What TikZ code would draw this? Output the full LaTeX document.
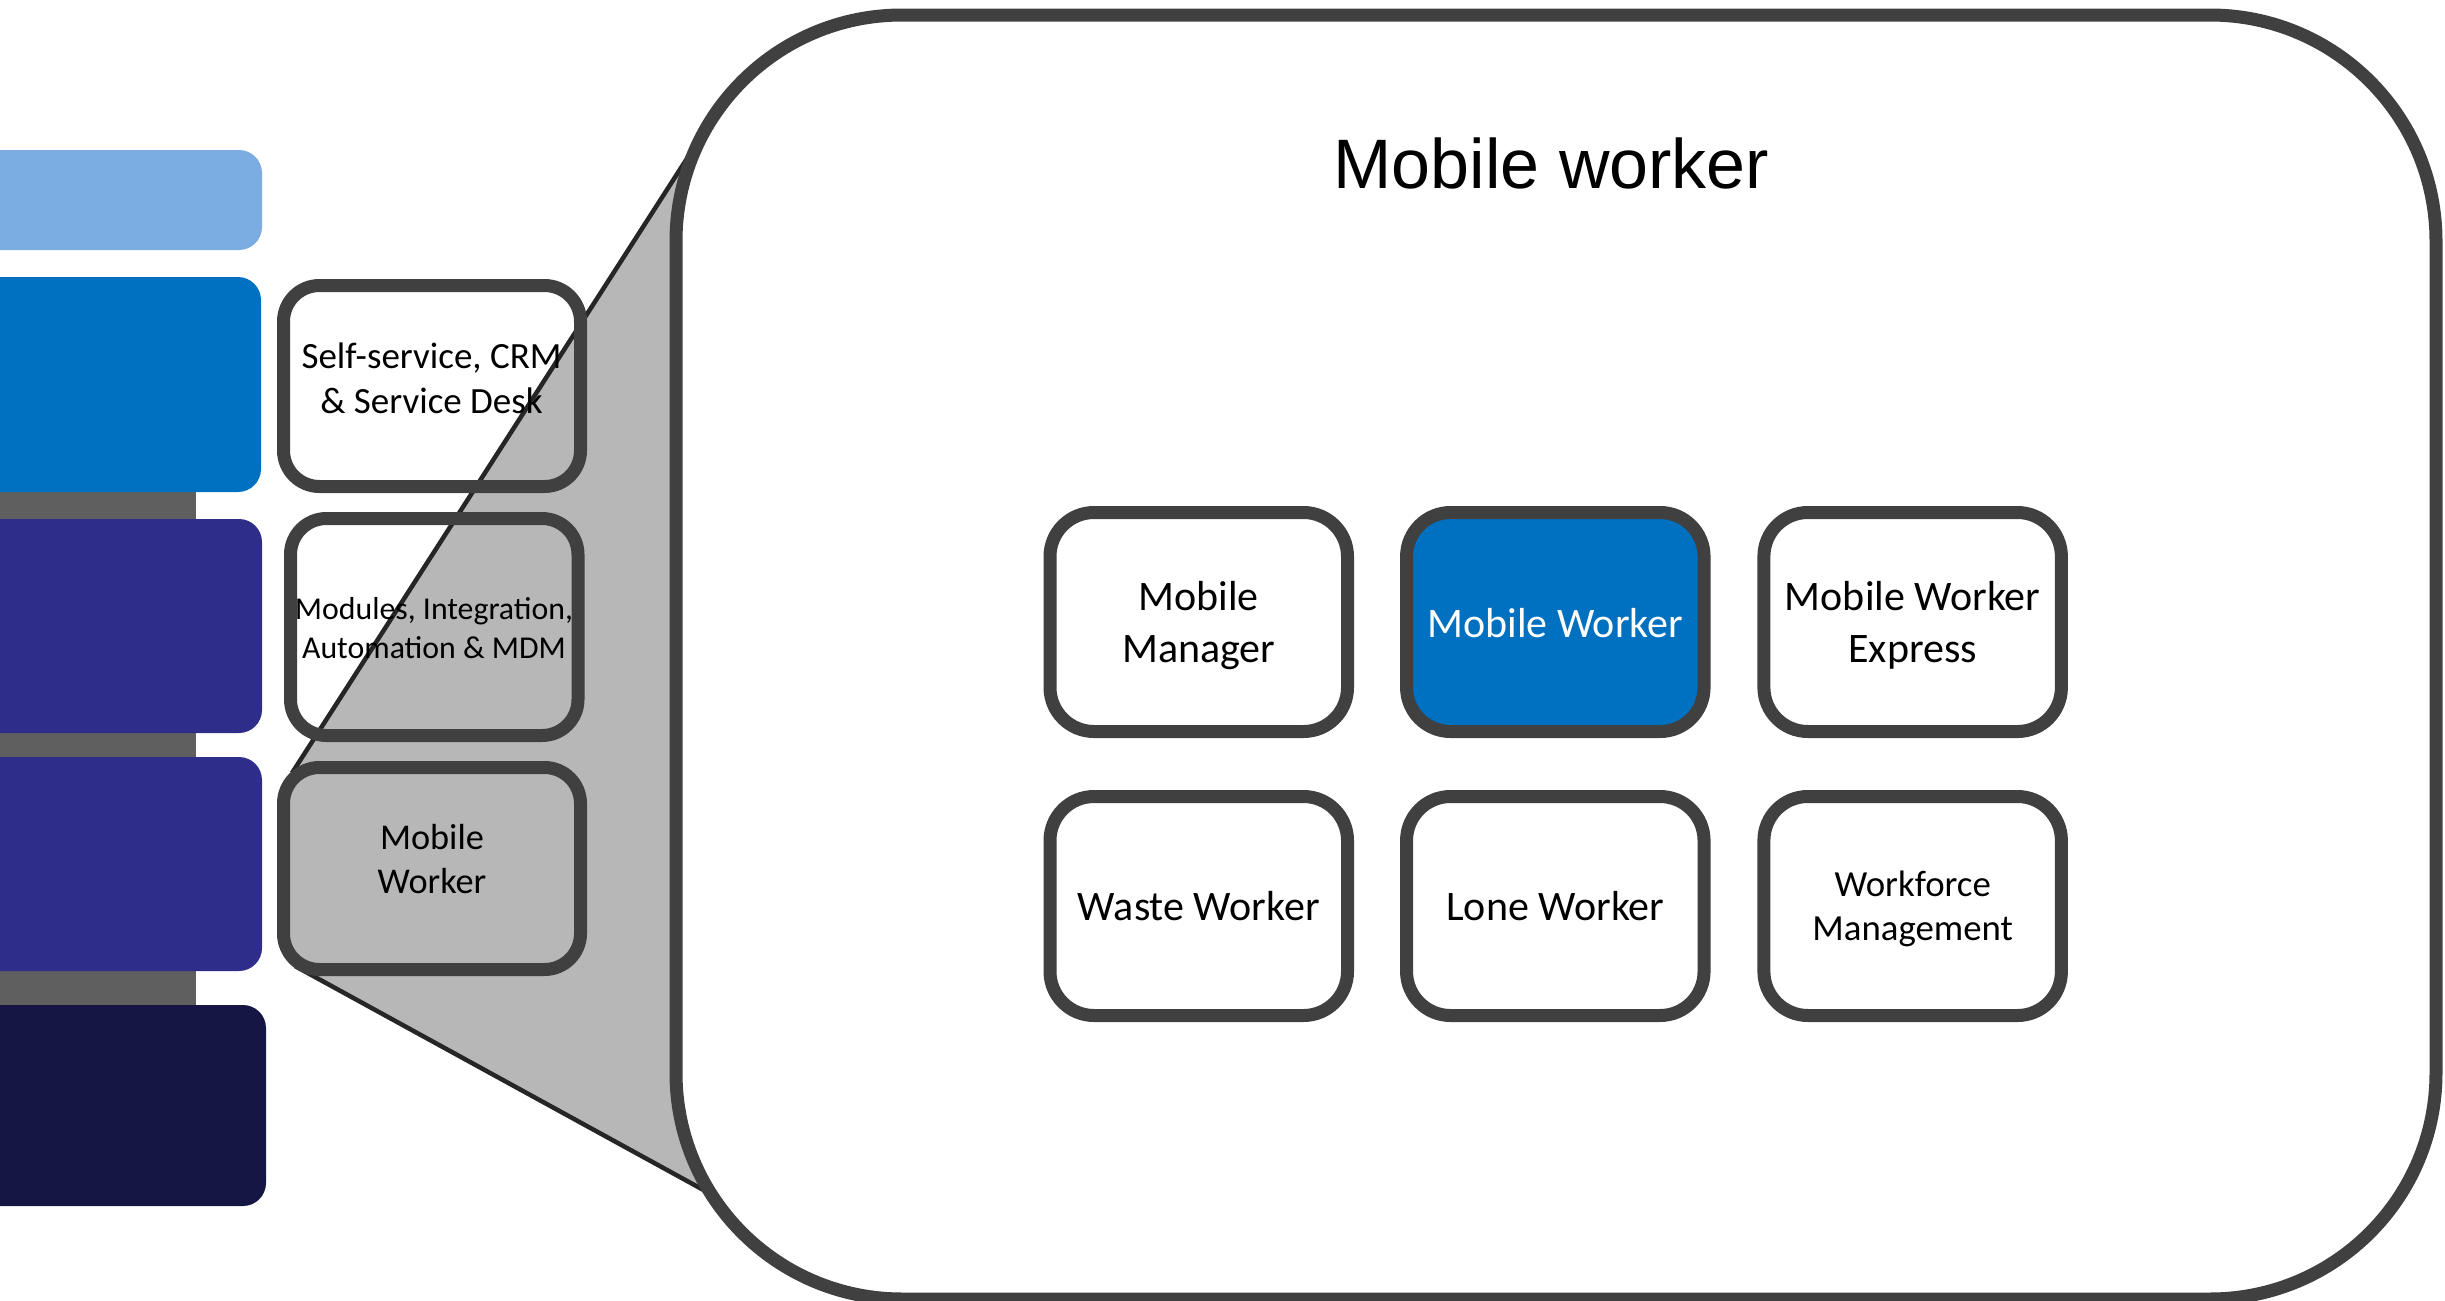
\documentclass[tikz,border=0pt]{standalone}
\usepackage{fontspec}
\setmainfont{Carlito}
\newfontfamily\titlefont{Liberation Sans}
\definecolor{edge}{RGB}{64,64,64}
\definecolor{funnel}{RGB}{183,183,183}
\definecolor{funline}{RGB}{38,38,38}
\definecolor{lblue}{RGB}{123,172,226}
\definecolor{mblue}{RGB}{0,112,192}
\definecolor{purp}{RGB}{46,46,138}
\definecolor{navy}{RGB}{22,22,68}
\definecolor{barcol}{RGB}{95,95,95}
\begin{document}
\begin{tikzpicture}[x=1pt,y=-1pt,
  layer/.style={draw=none,rounded corners=23pt,inner sep=0pt},
  sbox/.style={draw=edge,line width=13pt,rounded corners=36pt,inner sep=0pt},
  ibox/.style={draw=edge,line width=13pt,rounded corners=44pt,inner sep=0pt,minimum width=297.5pt,minimum height=219pt,fill=white},
  ltext/.style={align=center,anchor=base,inner sep=0pt,font=\fontsize{37pt}{44.4pt}\selectfont},
  itext/.style={align=center,anchor=base,inner sep=0pt,font=\fontsize{42pt}{51.8pt}\selectfont},
]
\useasboundingbox (0,0) rectangle (2445,1301);
% funnel
\coordinate (A) at (697,143);
\coordinate (B) at (292,773);
\coordinate (C) at (295,966);
\coordinate (D) at (709,1193);
\fill[funnel] (A) -- (B) -- (C) -- (D) -- (900,1193) -- (900,143) -- cycle;
\draw[funline,line width=4.5pt] (A) -- (B);
\draw[funline,line width=4.5pt] (C) -- (D);
% big box
\node[draw=edge,line width=13pt,fill=white,rounded corners=226pt,minimum width=1760pt,minimum height=1284pt,inner sep=0pt] (big) at (1556,657) {};
\node[anchor=base,inner sep=0pt,font=\titlefont\fontsize{70pt}{85pt}\selectfont] (title) at (1551.5,188) {Mobile worker};
% left stack
\fill[barcol] (-10,450) rectangle (196,1050);
\node[layer,fill=lblue,minimum width=302pt,minimum height=100pt] (l1) at (111,200) {};
\node[layer,fill=mblue,minimum width=301pt,minimum height=215pt] (l2) at (110.5,384.5) {};
\node[layer,fill=purp,minimum width=302pt,minimum height=214pt] (l3) at (111,626) {};
\node[layer,fill=purp,minimum width=302pt,minimum height=214pt] (l4) at (111,864) {};
\node[layer,fill=navy,minimum width=306pt,minimum height=201pt] (l5) at (113,1105.5) {};
% small boxes
\node[sbox,minimum width=297pt,minimum height=201pt] (ss) at (432,386) {};
\node[sbox,minimum width=287.5pt,minimum height=217pt] (mod) at (434.25,627) {};
\node[sbox,fill=funnel,minimum width=297pt,minimum height=202pt] (mws) at (432,868.5) {};
\node[ltext] (tss) at (431.5,413) {Self-service, CRM\\\& Service Desk};
\node[ltext,font=\fontsize{31.8pt}{39.4pt}\selectfont] (tmod) at (434,658.5) {Modules, Integration,\\Automation \& MDM};
\node[ltext,font=\fontsize{36.3pt}{44pt}\selectfont] (tmws) at (432,893.6) {Mobile\\Worker};
% inner boxes
\node[ibox] (mm) at (1198.75,622) {};
\node[ibox,fill=mblue] (mw) at (1555.3,622) {};
\node[ibox] (mwe) at (1912.65,622) {};
\node[ibox] (ww) at (1198.75,906) {};
\node[ibox] (lw) at (1555.3,906) {};
\node[ibox] (wm) at (1912.65,906) {};
\node[itext] (tmm) at (1198.75,662) {Mobile\\Manager};
\node[itext,text=white] (tmw) at (1555.3,637) {Mobile Worker};
\node[itext] (tmwe) at (1912.65,662) {Mobile Worker\\Express};
\node[itext] (tww) at (1198.75,920) {Waste Worker};
\node[itext] (tlw) at (1555.3,920) {Lone Worker};
\node[itext,font=\fontsize{36.8pt}{44.7pt}\selectfont] (twm) at (1912.65,940.7) {Workforce\\Management};
\end{tikzpicture}
\end{document}
